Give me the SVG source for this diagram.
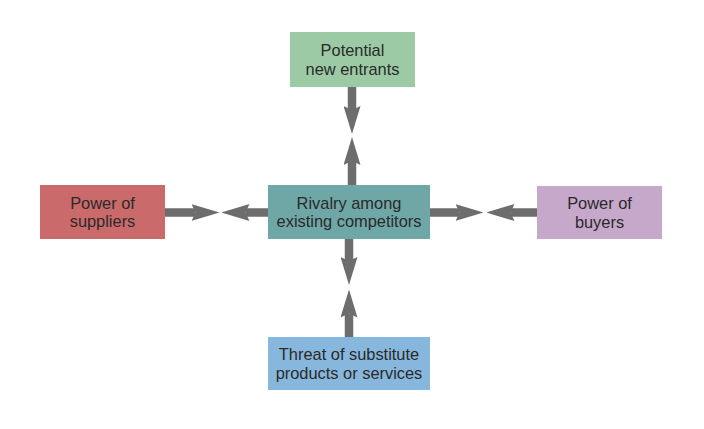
<svg xmlns="http://www.w3.org/2000/svg" width="704" height="429" viewBox="0 0 704 429">
<style>
  .lbl { font-family: "Liberation Sans", Arial, Helvetica, sans-serif; font-size: 16.4px; fill: #2a2a2a; text-anchor: middle; }
  .conn { stroke: #6d6d6d; stroke-width: 8.5; fill: none; marker-end: url(#head); }
</style>
<defs>
  <marker id="head" markerUnits="userSpaceOnUse" viewBox="0 0 28 17" refX="4" refY="8.5" markerWidth="28" markerHeight="17" orient="auto">
    <path d="M0,0 L28,8.5 L0,17 L4,8.5 Z" fill="#6d6d6d"/>
  </marker>
</defs>
<rect width="704" height="429" fill="#ffffff"/>
<g id="connectors">
  <line class="conn" x1="165" y1="212.5" x2="195.5" y2="212.5"/>
  <line class="conn" x1="268" y1="212.5" x2="245.5" y2="212.5"/>
  <line class="conn" x1="430" y1="212.5" x2="459.5" y2="212.5"/>
  <line class="conn" x1="537" y1="212.5" x2="510.5" y2="212.5"/>
  <line class="conn" x1="352" y1="87" x2="352" y2="110"/>
  <line class="conn" x1="352" y1="185" x2="352" y2="161"/>
  <line class="conn" x1="349" y1="239" x2="349" y2="261"/>
  <line class="conn" x1="349" y1="337" x2="349" y2="313.5"/>
</g>
<g id="entrants">
  <rect x="290" y="32" width="125" height="55" fill="#9bcaa4"/>
  <text class="lbl" x="352.5" y="56">Potential</text>
  <text class="lbl" x="352.5" y="74.5">new entrants</text>
</g>
<g id="suppliers">
  <rect x="40" y="185" width="125" height="54" fill="#cb6a6a"/>
  <text class="lbl" x="102.5" y="208.5">Power of</text>
  <text class="lbl" x="102.5" y="227">suppliers</text>
</g>
<g id="rivalry">
  <rect x="268" y="185" width="162" height="54" fill="#6fa7a6"/>
  <text class="lbl" x="349" y="208.5">Rivalry among</text>
  <text class="lbl" x="349" y="227">existing competitors</text>
</g>
<g id="buyers">
  <rect x="537" y="186" width="125" height="53" fill="#c6a8cb"/>
  <text class="lbl" x="599.5" y="209">Power of</text>
  <text class="lbl" x="599.5" y="227.5">buyers</text>
</g>
<g id="substitutes">
  <rect x="268" y="337" width="162" height="53" fill="#87b7dc"/>
  <text class="lbl" x="349" y="360">Threat of substitute</text>
  <text class="lbl" x="349" y="378.5">products or services</text>
</g>
</svg>
